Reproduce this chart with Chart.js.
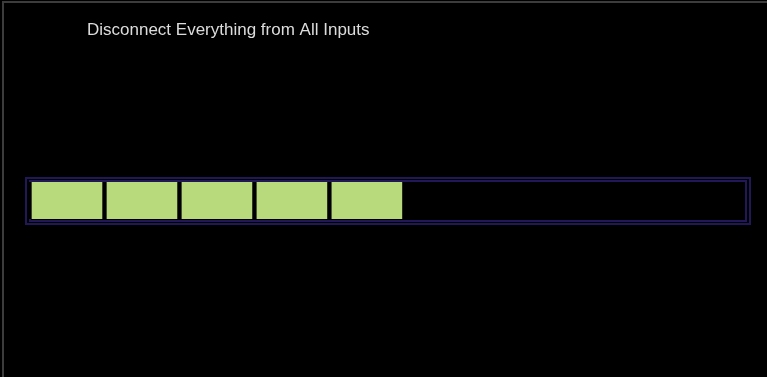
<!DOCTYPE html>
<html>
<head>
<meta charset="utf-8">
<script src="https://cdn.jsdelivr.net/npm/chart.js@4/dist/chart.umd.min.js"></script>
<style>
html,body{margin:0;padding:0;background:#000;overflow:hidden;}
#wrap{position:relative;width:767px;height:377px;}
#frame{position:absolute;left:2px;top:1px;width:780px;height:400px;border-top:2px solid #3c3c3c;border-left:2px solid #3c3c3c;pointer-events:none;}
canvas{display:block;}
</style>
</head>
<body>
<div id="wrap"><canvas id="c" width="767" height="377"></canvas><div id="frame"></div></div>
<script>
const titleText = "Disconnect Everything from All Inputs";
const categories = ["Progress"];
const completedSteps = [1, 1, 1, 1, 1];
const trackCapacity = 9.55;

const framePlugin = {
  id: 'frames',
  beforeDatasetsDraw(chart) {
    const ca = chart.chartArea, ctx = chart.ctx;
    ctx.save();
    ctx.strokeStyle = '#221757';
    ctx.lineWidth = 2;
    ctx.strokeRect(ca.left + 1, ca.top - 1, ca.right - ca.left, ca.bottom - ca.top + 3);
    ctx.strokeRect(ca.left - 3, ca.top - 4, ca.right - ca.left + 8, ca.bottom - ca.top + 9);
    ctx.restore();
  },
  afterDraw(chart) {
    const ctx = chart.ctx;
    ctx.save();
    ctx.fillStyle = '#dcdcdc';
    ctx.font = '17px "Liberation Sans", Arial, sans-serif';
    ctx.textBaseline = 'middle';
    ctx.fillText(chart.options.plugins.customTitle.text, 87, 30);
    ctx.restore();
  }
};

const datasets = completedSteps.map((v, i) => ({
  label: 'Step ' + (i + 1),
  data: [v],
  backgroundColor: '#b8d97c',
  borderColor: '#000000',
  borderWidth: {left: 3, right: 2, top: 0, bottom: 0},
  borderSkipped: false,
  barPercentage: 1,
  categoryPercentage: 1,
  stack: 's'
}));

new Chart(document.getElementById('c'), {
  type: 'bar',
  data: { labels: categories, datasets },
  options: {
    indexAxis: 'y',
    responsive: false,
    animation: false,
    layout: { padding: { left: 29, right: 22, top: 182, bottom: 158 } },
    scales: {
      x: { display: false, stacked: true, min: 0, max: trackCapacity },
      y: { display: false, stacked: true }
    },
    plugins: {
      legend: { display: false },
      tooltip: { enabled: false },
      title: { display: false },
      customTitle: { text: titleText }
    }
  },
  plugins: [framePlugin]
});
</script>
</body>
</html>
